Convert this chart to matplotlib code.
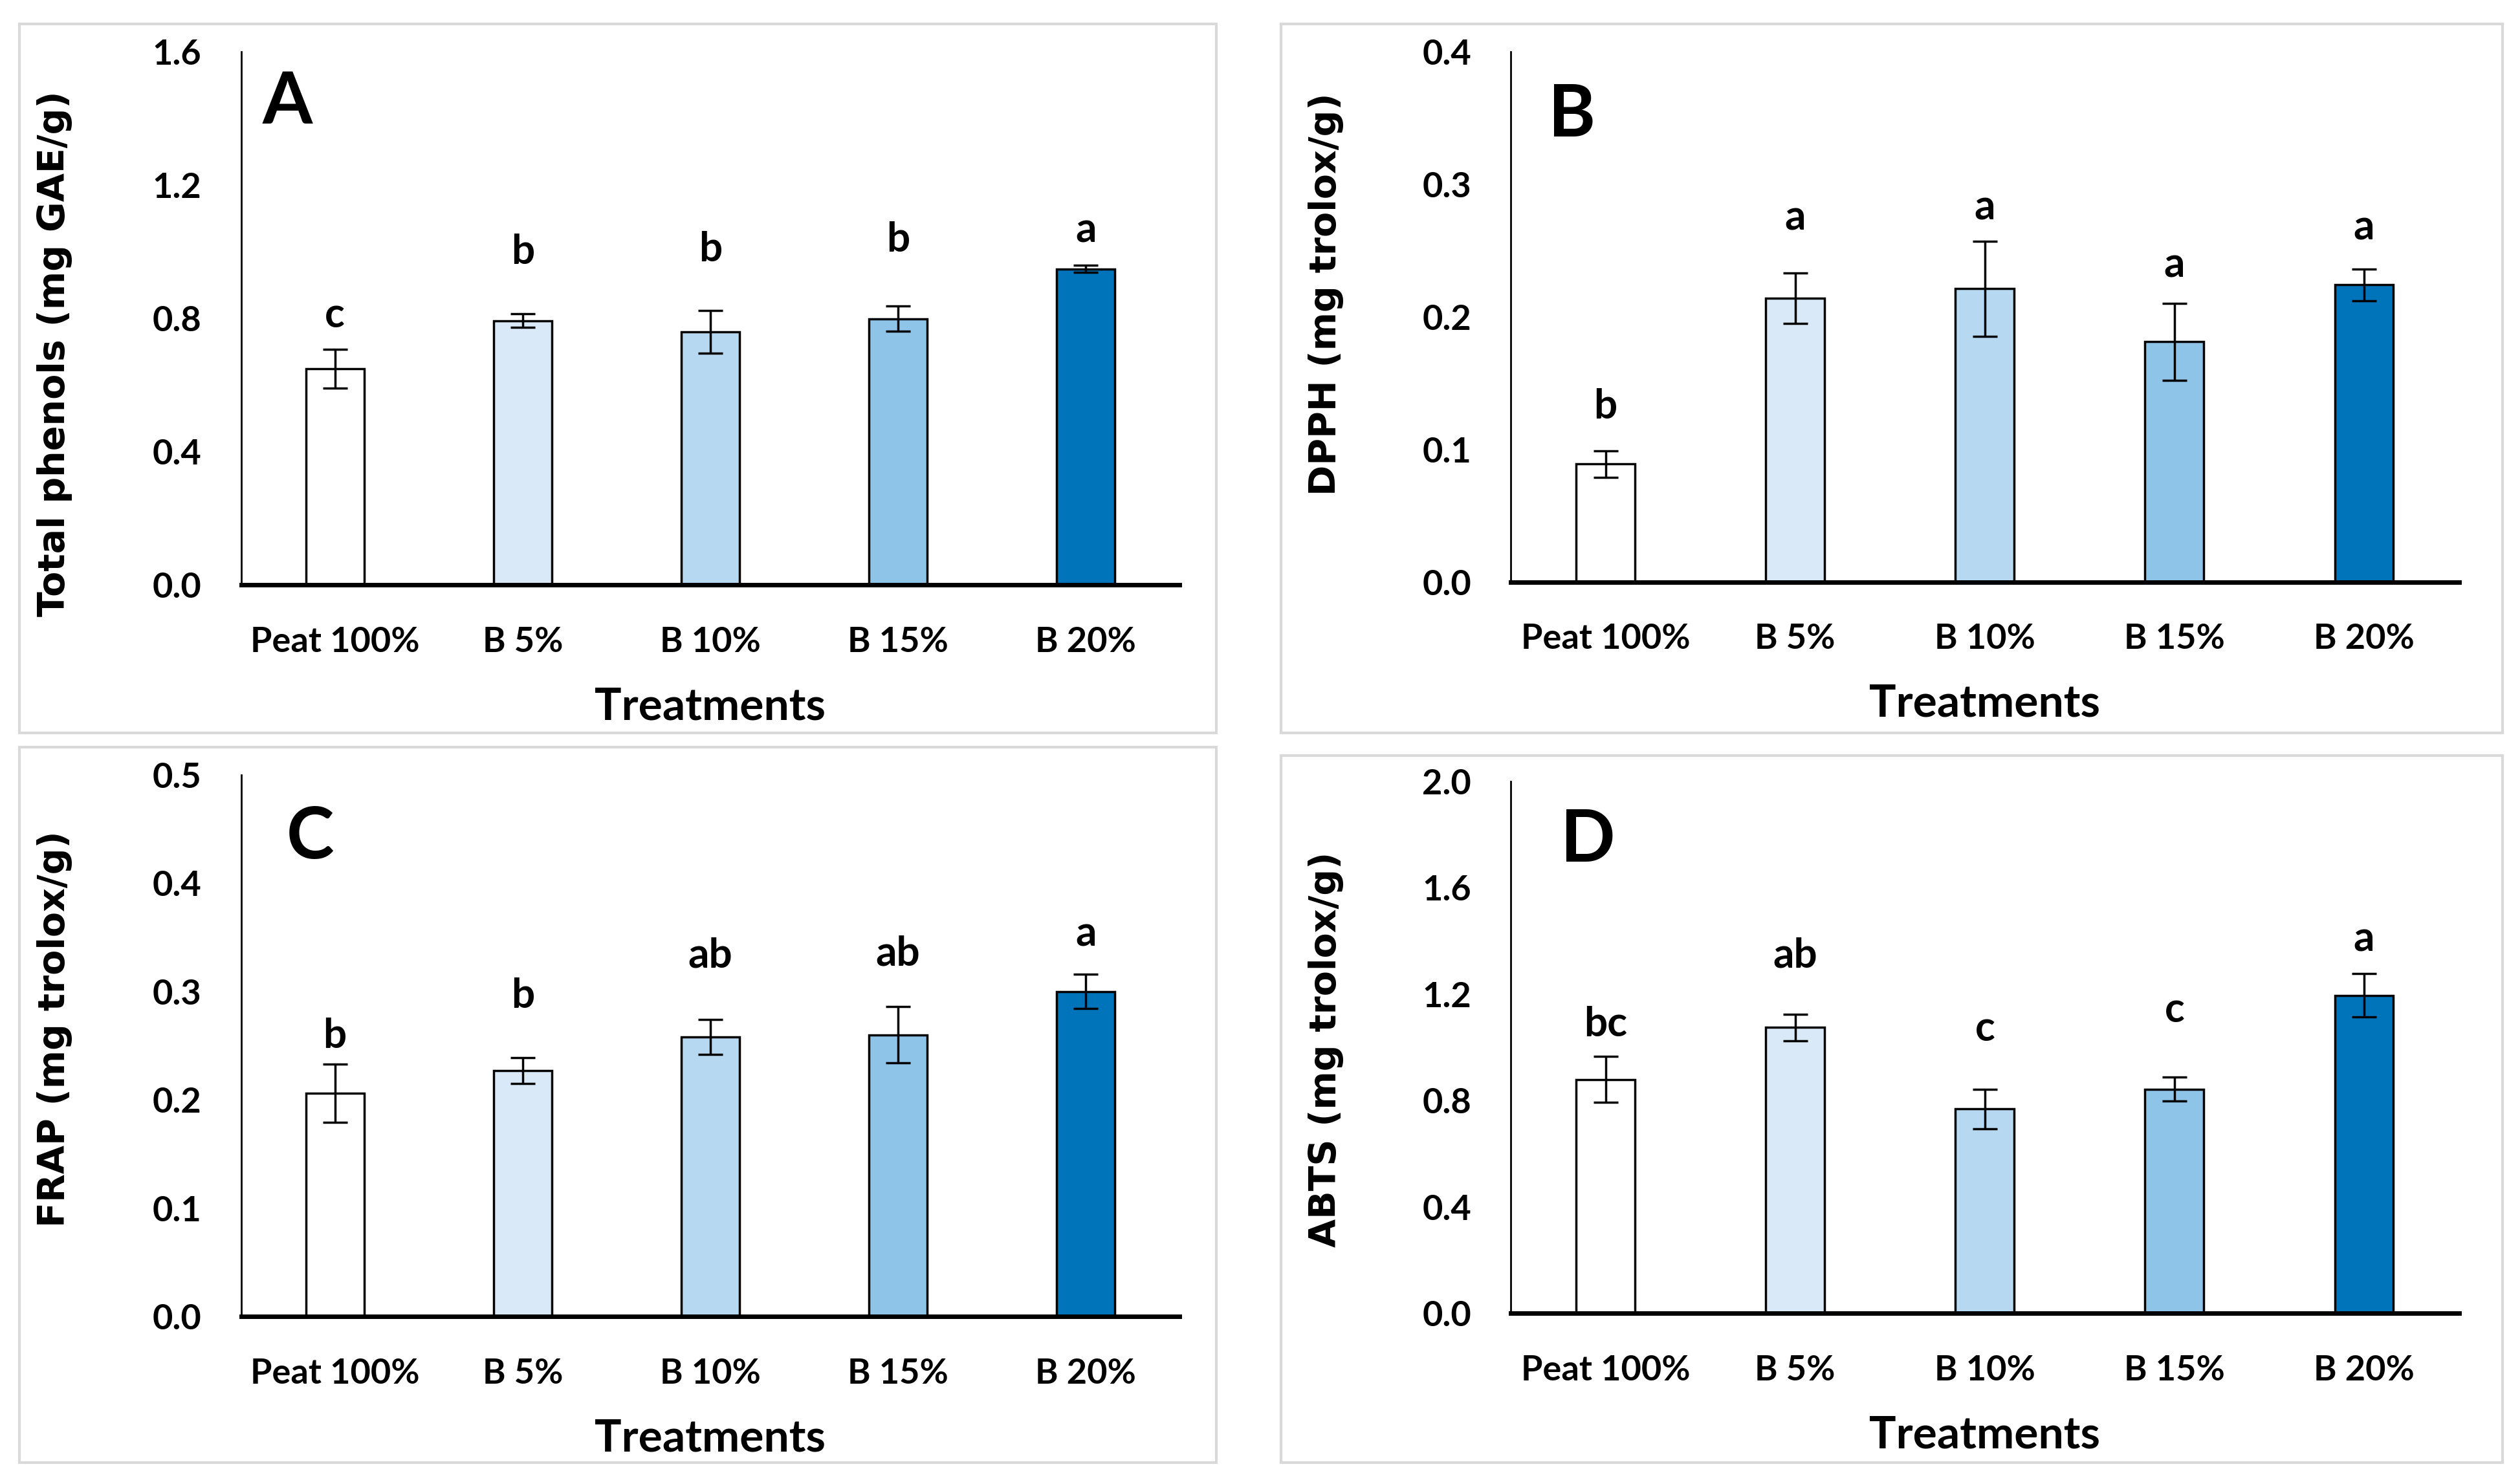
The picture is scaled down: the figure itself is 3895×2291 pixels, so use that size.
import matplotlib
matplotlib.use("Agg")
import matplotlib.pyplot as plt
from matplotlib.patches import Rectangle

# treatments and bar colours
treatments = ["Peat 100%", "B 5%", "B 10%", "B 15%", "B 20%"]
bar_colors = ["#FFFFFF", "#DAE9F7", "#B6D8F1", "#8FC4E9", "#0074BA"]

# A - total phenols
phenols = [0.649, 0.793, 0.759, 0.799, 0.948]
phenols_err = [0.058, 0.020, 0.064, 0.037, 0.011]
phenols_letters = ["c", "b", "b", "b", "a"]
phenols_letter_y = [0.808, 0.999, 1.006, 1.035, 1.063]

# B - DPPH
dpph = [0.089, 0.214, 0.221, 0.181, 0.224]
dpph_err = [0.010, 0.019, 0.036, 0.029, 0.012]
dpph_letters = ["b", "a", "a", "a", "a"]
dpph_letter_y = [0.132, 0.2745, 0.282, 0.239, 0.267]

# C - FRAP
frap = [0.206, 0.227, 0.258, 0.260, 0.300]
frap_err = [0.027, 0.012, 0.016, 0.026, 0.016]
frap_letters = ["b", "b", "ab", "ab", "a"]
frap_letter_y = [0.259, 0.296, 0.333, 0.335, 0.353]

# D - ABTS
abts = [0.879, 1.074, 0.768, 0.842, 1.195]
abts_err = [0.087, 0.049, 0.074, 0.045, 0.082]
abts_letters = ["bc", "ab", "c", "c", "a"]
abts_letter_y = [1.085, 1.346, 1.070, 1.140, 1.406]

TXT = dict(family=["Lato", "DejaVu Sans"], weight="bold")

fig = plt.figure(figsize=(38.95, 22.91), dpi=100)

# light grey frames round each chart (as in the Excel export)
W, H = 1568.0, 922.0
frames = [(12, 15, 757, 456), (797, 15, 1557, 456),
          (12, 465, 757, 910), (797, 470, 1557, 910)]
for x0, y0, x1, y1 in frames:
    fig.patches.append(Rectangle((x0 / W, 1 - y1 / H), (x1 - x0) / W, (y1 - y0) / H,
                                 transform=fig.transFigure, fill=False,
                                 edgecolor="#D9D9D9", linewidth=3))

panels = [
    ("A", [150, 32, 734, 364], phenols, phenols_err, phenols_letters, phenols_letter_y,
     (0, 1.6), [0, 0.4, 0.8, 1.2, 1.6], "Total phenols (mg GAE/g)", (34, 220), (179, 64)),
    ("B", [940, 32, 1530, 362], dpph, dpph_err, dpph_letters, dpph_letter_y,
     (0, 0.4), [0, 0.1, 0.2, 0.3, 0.4], "DPPH (mg trolox/g)", (825, 183), (978, 72)),
    ("C", [150, 482, 734, 819], frap, frap_err, frap_letters, frap_letter_y,
     (0, 0.5), [0, 0.1, 0.2, 0.3, 0.4, 0.5], "FRAP (mg trolox/g)", (34, 640), (193, 521)),
    ("D", [940, 486, 1530, 817], abts, abts_err, abts_letters, abts_letter_y,
     (0, 2.0), [0, 0.4, 0.8, 1.2, 1.6, 2.0], "ABTS (mg trolox/g)", (825, 653), (988, 523)),
]

x = list(range(len(treatments)))
for tag, box, vals, errs, letters, ly, ylim, yticks, ylabel, ylab_xy, tag_xy in panels:
    l, t, r, b = box
    ax = fig.add_axes([l / W, 1 - b / H, (r - l) / W, (b - t) / H])
    ax.bar(x, vals, width=0.31, color=bar_colors, edgecolor="black", linewidth=2.5, zorder=2)
    ax.errorbar(x, vals, yerr=errs, fmt="none", ecolor="black", elinewidth=2.5,
                capsize=14, capthick=2.5, zorder=3)
    for xi, lab, yy in zip(x, letters, ly):
        ax.text(xi, yy, lab, ha="center", va="center", fontsize=46, **TXT)
    ax.set_xlim(-0.5, len(treatments) - 0.5)
    ax.set_ylim(*ylim)
    ax.set_yticks(yticks)
    ax.set_yticklabels([f"{v:.1f}" for v in yticks], fontsize=39, **TXT)
    ax.set_xticks(x)
    ax.set_xticklabels(treatments, fontsize=39, **TXT)
    ax.tick_params(axis="both", length=0)
    ax.tick_params(axis="x", pad=46)
    ax.tick_params(axis="y", pad=44)
    for s in ["top", "right"]:
        ax.spines[s].set_visible(False)
    ax.spines["left"].set_linewidth(2)
    ax.spines["bottom"].set_linewidth(5)
    ax.spines["bottom"].set_zorder(4)
    ax.set_xlabel("Treatments", fontsize=50, labelpad=32, **TXT)
    # y label in a wider geometric face
    fig.text(ylab_xy[0] / W, 1 - ylab_xy[1] / H, ylabel, rotation=90, ha="center", va="center",
             fontsize=41, family="DejaVu Sans", weight="bold")
    fig.text(tag_xy[0] / W, 1 - tag_xy[1] / H, tag, ha="center", va="center",
             fontsize=80, **TXT)

fig.savefig("out.png", dpi=100, facecolor="white")
